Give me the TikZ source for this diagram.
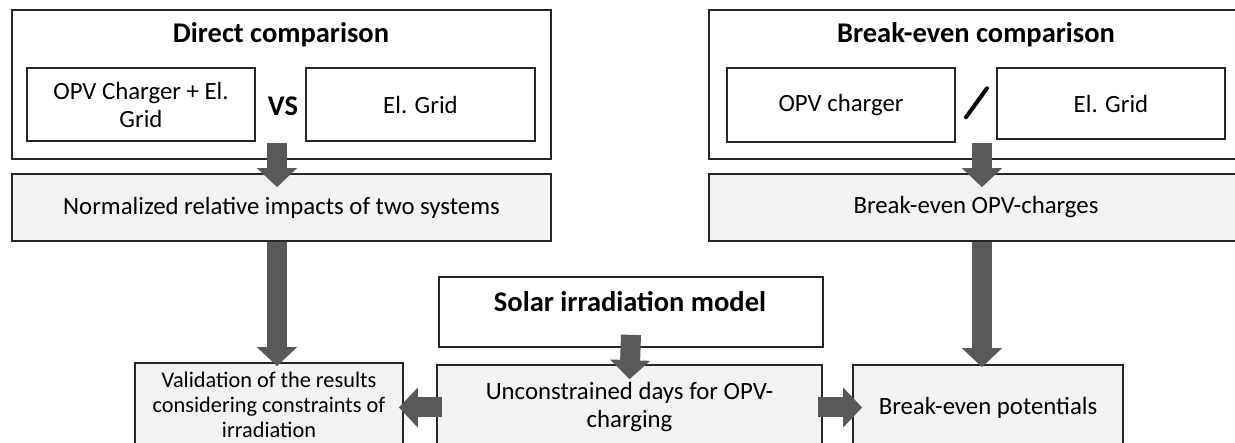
\documentclass[tikz,border=0pt]{standalone}
\usepackage{fontspec}
\setmainfont{Carlito}
\usetikzlibrary{arrows.meta,positioning,calc}
\definecolor{boxgray}{HTML}{F2F2F2}
\definecolor{arrowgray}{HTML}{595959}

\begin{document}
\begin{tikzpicture}[x=1pt, y=-1pt,
    box/.style={draw=black!85, line width=1.7pt, inner sep=0pt, align=center, font=\fontsize{24.8}{28}\selectfont},
    graybox/.style={box, fill=boxgray},
    heading/.style={font=\bfseries\fontsize{28.5}{32}\selectfont},
    bigarrow/.style={draw=arrowgray, line width=20pt, -{Triangle[width=39pt,length=19pt]}}
  ]
    \useasboundingbox (0,0) rectangle (1235,443);
    \clip (0,0) rectangle (1235,443);

    % Direct comparison
    \node[box, minimum width=539pt, minimum height=149pt] (dircmp) at (281.5,84.5) {};
    \node[heading] (dirtitle) at (281,35) {Direct comparison};
    \node[box, minimum width=228pt, minimum height=73pt] (opvgrid) at (141,104.5) {OPV Charger + El.\\Grid};
    \node[heading] (vs) at (283,106) {VS};
    \node[box, minimum width=229pt, minimum height=73pt] (gridA) at (420.5,104.5) {El. Grid};
    \node[graybox, minimum width=539pt, minimum height=67pt] (normrel) at (281.5,207.5) {Normalized relative impacts of two systems};

    % Break-even comparison
    \node[box, minimum width=534pt, minimum height=149pt] (becmp) at (976,84.5) {};
    \node[heading] (betitle) at (976,35) {Break-even comparison};
    \node[box, minimum width=228pt, minimum height=74pt] (opvch) at (841,105) {OPV charger};
    \node[box, minimum width=228pt, minimum height=71pt] (gridB) at (1111,103.5) {El. Grid};
    \draw[line width=4pt, line cap=round] ($(opvch.east)!0.5!(gridB.west)+(-10,13)$) -- ++(21,-29);
    \node[graybox, minimum width=534pt, minimum height=67pt] (becharges) at (976,207.5) {Break-even OPV-charges};

    % Solar irradiation model and results
    \node[box, minimum width=384pt, minimum height=70pt] (solar) at (631,312) {};
    \node[heading] (solartitle) at (630,302) {Solar irradiation model};
    \node[graybox, minimum width=385pt, minimum height=85pt] (uncon) at (629.5,407.5) {Unconstrained days for OPV-\\charging};
    \node[graybox, minimum width=268pt, minimum height=84pt, font=\fontsize{22.3}{25}\selectfont] (valid) at (269,405) {Validation of the results\\considering constraints of\\irradiation};
    \node[graybox, minimum width=270pt, minimum height=85pt] (bepot) at (988,407.5) {Break-even potentials};

    % Arrows
    \draw[bigarrow] ([xshift=-4.5pt,yshift=17pt]dircmp.south) -- ([xshift=-4.5pt,yshift=-14pt]normrel.north);
    \draw[bigarrow] ([xshift=-4.5pt]normrel.south) -- ([xshift=8pt,yshift=-4pt]valid.north);
    \draw[bigarrow] ([xshift=6pt,yshift=17pt]becmp.south) -- ([xshift=6pt,yshift=-14pt]becharges.north);
    \draw[bigarrow] ([xshift=6pt]becharges.south) -- ([xshift=-6pt,yshift=-3pt]bepot.north);
    \draw[bigarrow] ([yshift=13pt]solar.south) -- ([yshift=-15pt]uncon.north);
    \draw[bigarrow] ([xshift=6pt]uncon.west) -- ($(valid.east |- uncon.west)+(-5,0)$);
    \draw[bigarrow] ([xshift=-5pt]uncon.east) -- ([xshift=10pt]bepot.west);
\end{tikzpicture}
\end{document}
